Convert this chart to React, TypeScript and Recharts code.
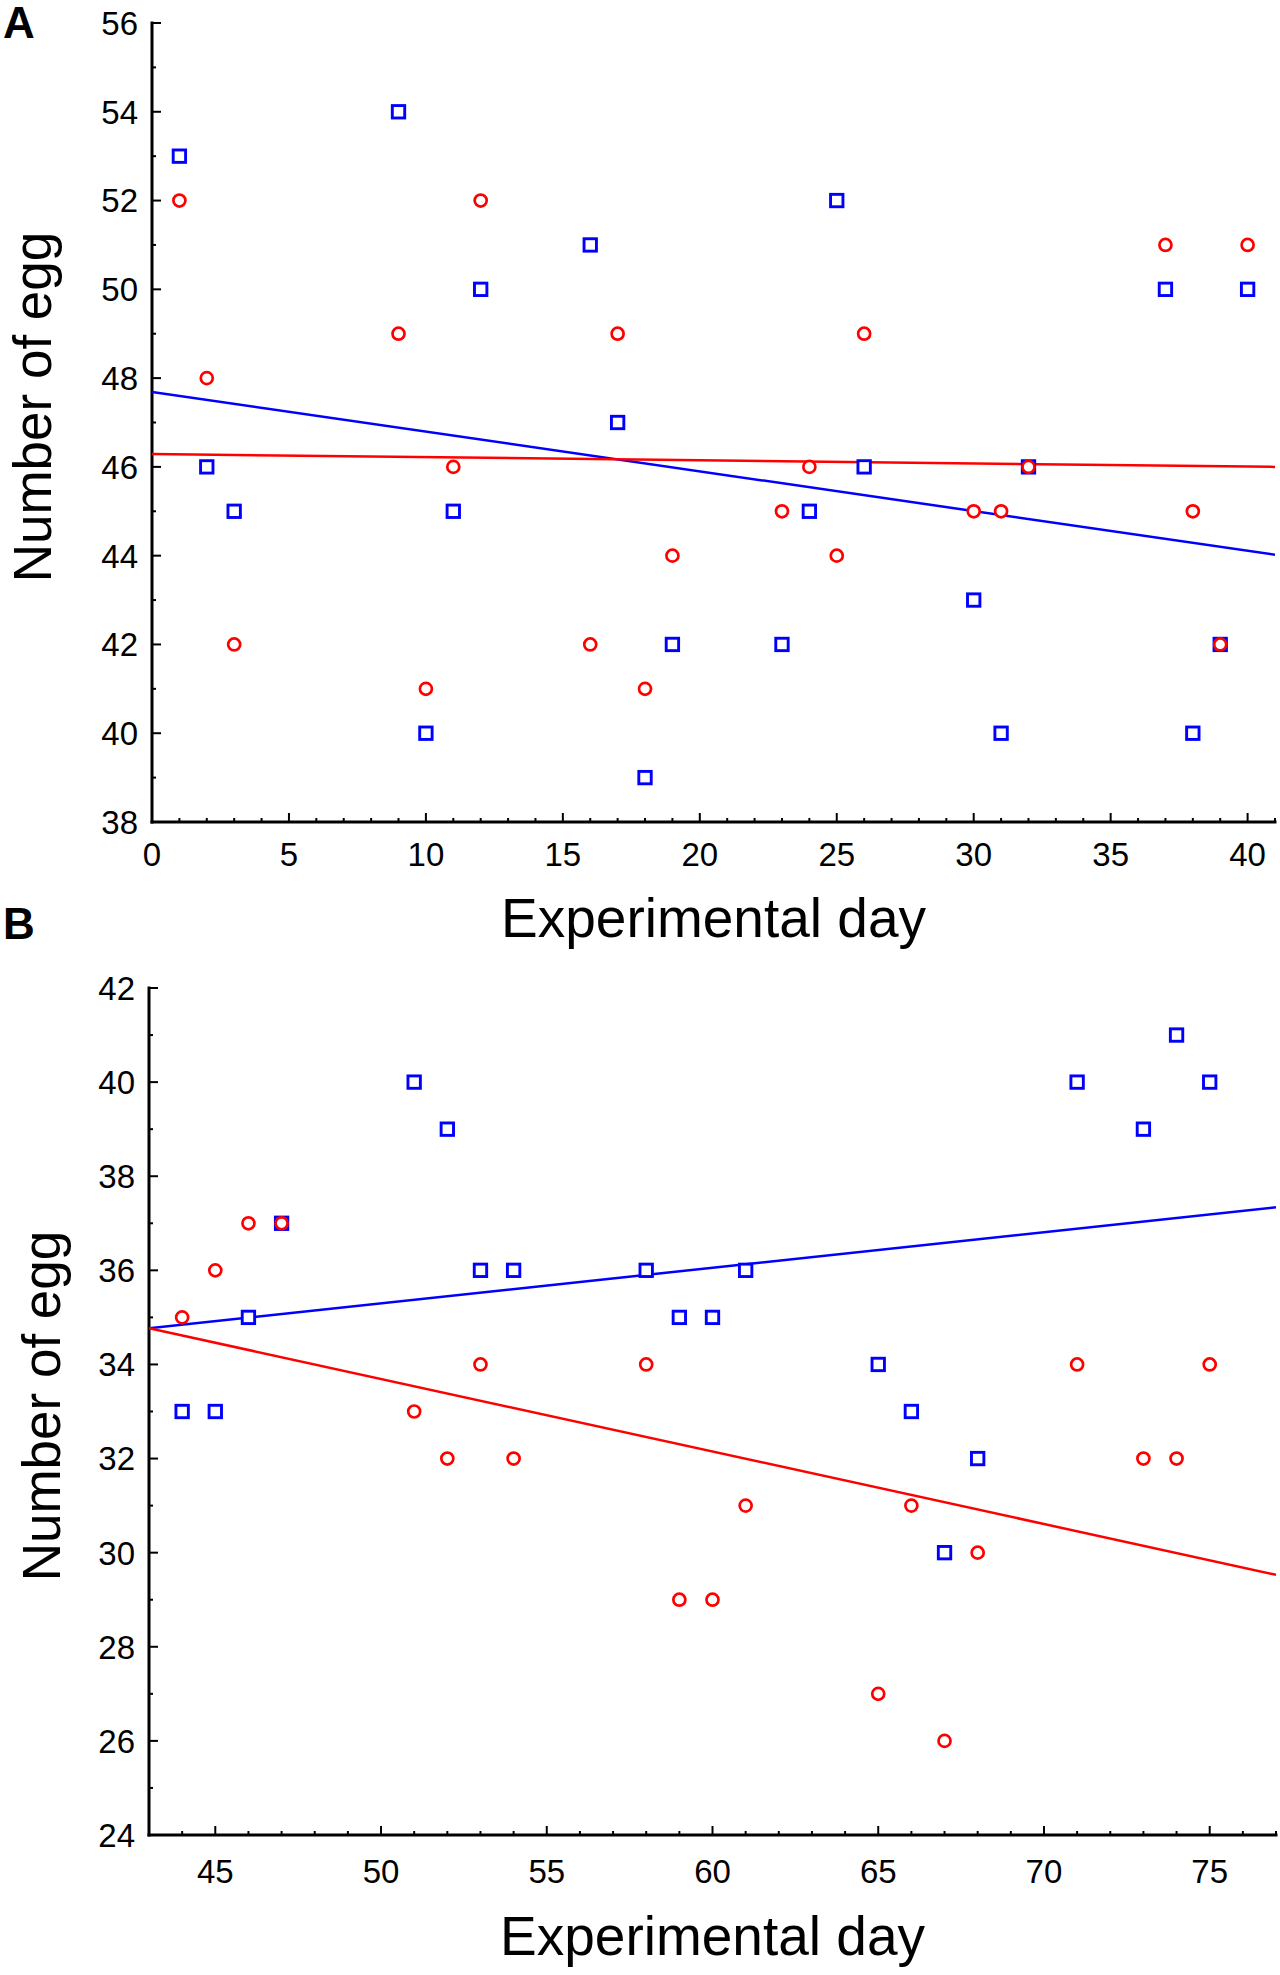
import { Label, Scatter, ScatterChart, XAxis, YAxis } from "recharts";

// Two panels of egg counts per experimental day, red circles vs blue squares,
// each with its straight fitted line. Values were read off the figure.

const FONT = '"Liberation Sans", Arial, Helvetica, sans-serif';
const RED = "#ff0000";
const BLUE = "#0000ff";

// Panel A (days 1–40)
const A_DAYS = [1, 2, 3, 9, 10, 11, 12, 16, 17, 18, 19, 23, 24, 25, 26, 30, 31, 32, 37, 38, 39, 40];
const A_RED = [52, 48, 42, 49, 41, 46, 52, 42, 49, 41, 44, 45, 46, 44, 49, 45, 45, 46, 51, 45, 42, 51];
const A_BLUE = [53, 46, 45, 54, 40, 45, 50, 51, 47, 39, 42, 42, 45, 52, 46, 43, 40, 46, 50, 40, 42, 50];
const A_FIT_DAYS = [0, 41];
const A_RED_FIT = [46.29, 46.0];
const A_BLUE_FIT = [47.69, 44.02];
const A_X_TICKS = [0, 5, 10, 15, 20, 25, 30, 35, 40];
const A_Y_TICKS = [38, 40, 42, 44, 46, 48, 50, 52, 54, 56];

// Panel B (days 44–75)
const B_DAYS = [44, 45, 46, 47, 51, 52, 53, 54, 58, 59, 60, 61, 65, 66, 67, 68, 71, 73, 74, 75];
const B_RED = [35, 36, 37, 37, 33, 32, 34, 32, 34, 29, 29, 31, 27, 31, 26, 30, 34, 32, 32, 34];
const B_BLUE = [33, 33, 35, 37, 40, 39, 36, 36, 36, 35, 35, 36, 34, 33, 30, 32, 40, 39, 41, 40];
const B_FIT_DAYS = [43, 77];
const B_RED_FIT = [34.77, 29.53];
const B_BLUE_FIT = [34.77, 37.34];
const B_X_TICKS = [45, 50, 55, 60, 65, 70, 75];
const B_Y_TICKS = [24, 26, 28, 30, 32, 34, 36, 38, 40, 42];

// every whole unit gets a tick mark, only the listed ones get a number
const unitSteps = (lo: number, hi: number) => {
  const out: number[] = [];
  for (let v = Math.ceil(lo); v <= hi; v++) out.push(v);
  return out;
};

const pairs = (days: number[], eggs: number[]) => days.map((day, i) => ({ day, egg: eggs[i] }));

const TICK_FONT = 33;

function YTick(props: any) {
  const { x, y, payload, majors } = props;
  const major = majors.includes(payload.value);
  return (
    <g>
      <line x1={x} x2={x + (major ? 9 : 4)} y1={y} y2={y} stroke="#000" strokeWidth={2} />
      {major && (
        <text x={x - 14} y={y} dy="0.36em" textAnchor="end" fontSize={TICK_FONT} fontFamily={FONT} fill="#000">
          {payload.value}
        </text>
      )}
    </g>
  );
}

function XTick(props: any) {
  const { x, y, payload, majors, gap } = props;
  const major = majors.includes(payload.value);
  return (
    <g>
      <line x1={x} x2={x} y1={y} y2={y - (major ? 9 : 4)} stroke="#000" strokeWidth={2} />
      {major && (
        <text x={x} y={y + gap} dy="0.36em" textAnchor="middle" fontSize={TICK_FONT} fontFamily={FONT} fill="#000">
          {payload.value}
        </text>
      )}
    </g>
  );
}

function XTitle(props: any) {
  const { viewBox, baseline } = props;
  return (
    <text
      x={viewBox.x + viewBox.width / 2}
      y={viewBox.y + baseline}
      textAnchor="middle"
      fontSize={55}
      fontFamily={FONT}
      fill="#000"
    >
      Experimental day
    </text>
  );
}

function YTitle(props: any) {
  const { cx, cy } = props;
  return (
    <text
      x={cx}
      y={cy}
      transform={`rotate(-90 ${cx} ${cy})`}
      textAnchor="middle"
      dominantBaseline="central"
      fontSize={53}
      fontFamily={FONT}
      fill="#000"
    >
      Number of egg
    </text>
  );
}

const circle = (p: any) => <circle cx={p.cx} cy={p.cy} r={6} fill="#fff" stroke={RED} strokeWidth={2.7} />;
const square = (p: any) => (
  <rect x={p.cx - 6.2} y={p.cy - 6.2} width={12.4} height={12.4} fill="#fff" stroke={BLUE} strokeWidth={2.9} />
);
const noDot = () => <g />;

type PanelProps = {
  top: number;
  height: number;
  letter: string;
  days: number[];
  red: number[];
  blue: number[];
  fitDays: number[];
  redFit: number[];
  blueFit: number[];
  xDomain: [number, number];
  yDomain: [number, number];
  xTicks: number[];
  yTicks: number[];
  plotTop: number;
  plotLeft: number;
  plotRight: number;
  xAxisHeight: number;
  tickGap: number;
  titleBaseline: number;
  yTitleX: number;
  yTitleY: number;
  letterTop: number;
};

function Panel(p: PanelProps) {
  const axisLine = { stroke: "#000", strokeWidth: 3, strokeLinecap: "square" as const };
  return (
    <div style={{ position: "absolute", left: 0, top: p.top, width: 1280, height: p.height }}>
      <div
        style={{
          position: "absolute",
          left: 3,
          top: p.letterTop,
          fontFamily: FONT,
          fontWeight: 700,
          fontSize: 44,
          lineHeight: "44px",
        }}
      >
        {p.letter}
      </div>
      <ScatterChart
        width={1280}
        height={p.height}
        margin={{ top: p.plotTop, right: 1280 - p.plotRight, bottom: 0, left: 0 }}
      >
        <XAxis
          type="number"
          dataKey="day"
          domain={p.xDomain}
          ticks={unitSteps(p.xDomain[0], p.xDomain[1])}
          interval={0}
          allowDataOverflow
          height={p.xAxisHeight}
          axisLine={axisLine}
          tickLine={false}
          tickSize={0}
          tickMargin={0}
          tick={<XTick majors={p.xTicks} gap={p.tickGap} />}
        >
          <Label content={<XTitle baseline={p.titleBaseline} />} />
        </XAxis>
        <YAxis
          type="number"
          dataKey="egg"
          domain={p.yDomain}
          ticks={unitSteps(p.yDomain[0], p.yDomain[1])}
          interval={0}
          allowDataOverflow
          width={p.plotLeft}
          axisLine={axisLine}
          tickLine={false}
          tickSize={0}
          tickMargin={0}
          tick={<YTick majors={p.yTicks} />}
        >
          <Label content={<YTitle cx={p.yTitleX} cy={p.yTitleY} />} />
        </YAxis>
        <Scatter
          data={pairs(p.fitDays, p.blueFit)}
          line={{ stroke: BLUE, strokeWidth: 2.5 }}
          shape={noDot}
          isAnimationActive={false}
        />
        <Scatter
          data={pairs(p.fitDays, p.redFit)}
          line={{ stroke: RED, strokeWidth: 2.5 }}
          shape={noDot}
          isAnimationActive={false}
        />
        <Scatter data={pairs(p.days, p.blue)} shape={square} isAnimationActive={false} />
        <Scatter data={pairs(p.days, p.red)} shape={circle} isAnimationActive={false} />
      </ScatterChart>
    </div>
  );
}

export default function App() {
  return (
    <div style={{ position: "absolute", left: 0, top: 0, width: 1280, height: 1975, background: "#fff" }}>
      <Panel
        top={0}
        height={960}
        letter="A"
        days={A_DAYS}
        red={A_RED}
        blue={A_BLUE}
        fitDays={A_FIT_DAYS}
        redFit={A_RED_FIT}
        blueFit={A_BLUE_FIT}
        xDomain={[0, 41]}
        yDomain={[38, 56]}
        xTicks={A_X_TICKS}
        yTicks={A_Y_TICKS}
        plotTop={23}
        plotLeft={152}
        plotRight={1275}
        xAxisHeight={138}
        tickGap={32}
        titleBaseline={115}
        yTitleX={32}
        yTitleY={407}
        letterTop={1}
      />
      <Panel
        top={960}
        height={1015}
        letter="B"
        days={B_DAYS}
        red={B_RED}
        blue={B_BLUE}
        fitDays={B_FIT_DAYS}
        redFit={B_RED_FIT}
        blueFit={B_BLUE_FIT}
        xDomain={[43, 77]}
        yDomain={[24, 42]}
        xTicks={B_X_TICKS}
        yTicks={B_Y_TICKS}
        plotTop={28}
        plotLeft={149}
        plotRight={1276}
        xAxisHeight={140}
        tickGap={36}
        titleBaseline={120}
        yTitleX={41}
        yTitleY={446}
        letterTop={-58}
      />
    </div>
  );
}
